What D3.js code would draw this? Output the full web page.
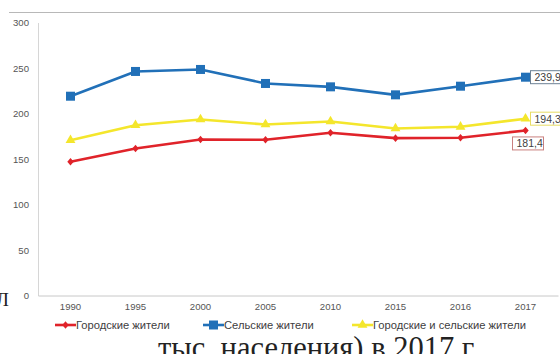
<!DOCTYPE html>
<html>
<head>
<meta charset="utf-8">
<script src="https://cdn.jsdelivr.net/npm/d3@7"></script>
<style>
  html, body { margin: 0; padding: 0; background: #fff; overflow: hidden; }
  svg { display: block; }
</style>
</head>
<body>
<svg id="chart" width="560" height="354"></svg>
<script>
// Years on the horizontal axis
const years = ["1990", "1995", "2000", "2005", "2010", "2015", "2016", "2017"];
// Values per 100 thousand population
const urbanValues = [146.9, 161.5, 171.4, 171.1, 178.8, 172.9, 173.3, 181.4];
const ruralValues = [219.0, 246.2, 248.4, 233.0, 229.3, 220.5, 230.0, 239.9];
const totalValues = [170.7, 187.1, 193.4, 187.9, 191.2, 183.5, 185.4, 194.3];
const yTicks = [0, 50, 100, 150, 200, 250, 300];
const seriesNames = ["Городские жители", "Сельские жители", "Городские и сельские жители"];

const series = [
  { name: seriesNames[0], values: urbanValues, color: "#e0232a", marker: "diamond", labelBorder: "#c9807f", labelDx: -13, labelDy: 13 },
  { name: seriesNames[1], values: ruralValues, color: "#2170b8", marker: "square", labelBorder: "#6d8296", labelDx: 5, labelDy: 0 },
  { name: seriesNames[2], values: totalValues, color: "#f4e62c", marker: "triangle", labelBorder: "#e8dc63", labelDx: 5, labelDy: 0 }
];

const svg = d3.select("#chart");
const fmt = v => d3.format(".1f")(v).replace(".", ",");
const sans = "Liberation Sans, Arial, sans-serif";
const serif = "Liberation Serif, Times New Roman, serif";

// Page rule above the chart
svg.append("line")
  .attr("x1", 9).attr("x2", 560).attr("y1", 12.5).attr("y2", 12.5)
  .attr("stroke", "#b8b8b8").attr("stroke-width", 1.2);

const x = d3.scaleBand().domain(years).range([38, 558]);
const y = d3.scaleLinear().domain([0, 300]).range([295.5, 22.5]);
const cx = d => x(d) + x.bandwidth() / 2;

// Axes
const yAxis = svg.append("g").attr("transform", "translate(38,0)")
  .call(d3.axisLeft(y).tickValues(yTicks).tickSize(0).tickPadding(9));
yAxis.select(".domain").attr("stroke", "#d6d6d6");
yAxis.selectAll("text").attr("fill", "#555").style("font-family", sans).style("font-size", "9.6px");

const xAxis = svg.append("g").attr("transform", "translate(0,295.5)")
  .call(d3.axisBottom(x).tickSize(0).tickPadding(8));
xAxis.select(".domain").attr("stroke", "#c8c8c8");
xAxis.selectAll("text").attr("fill", "#555").style("font-family", sans).style("font-size", "9.6px");

function drawMarker(g, type, color) {
  if (type === "square") {
    g.append("rect").attr("x", -4.5).attr("y", -4.5).attr("width", 9).attr("height", 9).attr("fill", color);
  } else if (type === "triangle") {
    g.append("path").attr("d", d3.symbol(d3.symbolTriangle, 42)()).attr("fill", color);
  } else {
    g.append("path").attr("d", "M0,-3.8L3.2,0L0,3.8L-3.2,0Z").attr("fill", color);
  }
}

const line = d3.line().x((d, i) => cx(years[i])).y(d => y(d));

series.forEach(s => {
  svg.append("path")
    .datum(s.values)
    .attr("d", line)
    .attr("fill", "none")
    .attr("stroke", s.color)
    .attr("stroke-width", 2.6)
    .attr("stroke-linejoin", "round");
  s.values.forEach((v, i) => {
    const g = svg.append("g").attr("transform", `translate(${cx(years[i])},${y(v)})`);
    drawMarker(g, s.marker, s.color);
  });
});

// Value labels for the last year
series.forEach(s => {
  const last = s.values.length - 1;
  const v = s.values[last];
  const px = cx(years[last]) + s.labelDx;
  const py = y(v) + s.labelDy;
  const g = svg.append("g").attr("transform", `translate(${px},${py})`);
  g.append("rect").attr("x", 0).attr("y", -6.5).attr("width", 31).attr("height", 13)
    .attr("fill", "#fff").attr("stroke", s.labelBorder).attr("stroke-width", 1);
  g.append("text").attr("x", 4).attr("y", 4)
    .attr("fill", "#404040")
    .style("font-family", sans).style("font-size", "10.5px")
    .text(fmt(v));
});

// Legend
const legendX = [55, 203, 352];
series.forEach((s, i) => {
  const g = svg.append("g").attr("transform", `translate(${legendX[i]},325)`);
  g.append("line").attr("x1", 0).attr("x2", 21).attr("y1", 0).attr("y2", 0)
    .attr("stroke", s.color).attr("stroke-width", 2.6);
  const m = g.append("g").attr("transform", "translate(10.5,0)");
  drawMarker(m, s.marker, s.color);
  g.append("text").attr("x", 21).attr("y", 3.8)
    .attr("fill", "#404040")
    .style("font-family", sans).style("font-size", "11.2px")
    .text(s.name);
});

// Surrounding page text
svg.append("text").attr("x", -4).attr("y", 306)
  .attr("fill", "#222").style("font-family", serif).style("font-size", "19px")
  .text("Л");
svg.append("text").attr("x", 158).attr("y", 358)
  .attr("fill", "#222").style("font-family", serif).style("font-size", "30.5px")
  .text("тыс. населения) в 2017 г.");
</script>
</body>
</html>
